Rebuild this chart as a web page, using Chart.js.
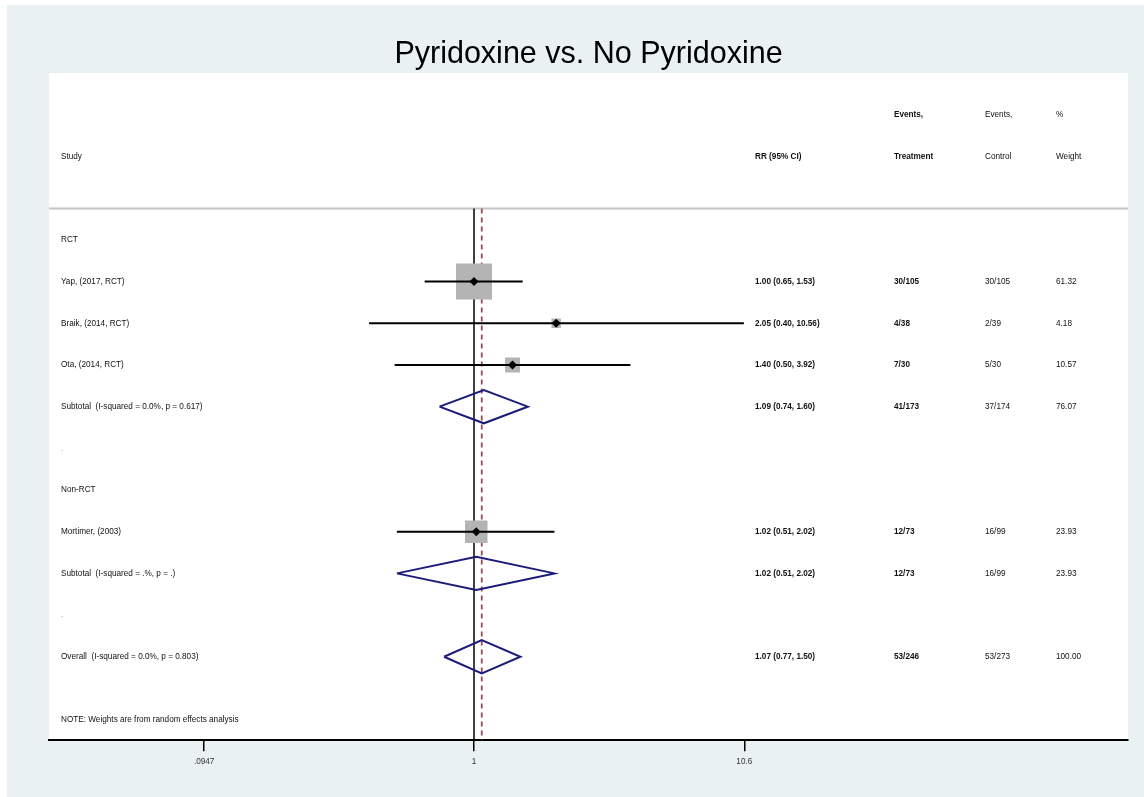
<!DOCTYPE html>
<html>
<head>
<meta charset="utf-8">
<title>Pyridoxine vs. No Pyridoxine</title>
<script src="https://cdn.jsdelivr.net/npm/chart.js@4.4.0/dist/chart.umd.min.js"></script>
<style>
  body { margin: 0; background: #fff; overflow: hidden; }
  canvas { display: block; }
</style>
</head>
<body>
<canvas id="grafica" width="1144" height="797"></canvas>
<script>
// rows, top to bottom
const studyLabels = [
  'RCT',
  'Yap, (2017, RCT)',
  'Braik, (2014, RCT)',
  'Ota, (2014, RCT)',
  'Subtotal  (I-squared = 0.0%, p = 0.617)',
  '.',
  'Non-RCT',
  'Mortimer, (2003)',
  'Subtotal  (I-squared = .%, p = .)',
  '.',
  'Overall  (I-squared = 0.0%, p = 0.803)'
];
const rowKind = ['group', 'study', 'study', 'study', 'pooled', 'blank', 'group', 'study', 'pooled', 'blank', 'pooled'];
const rr     = [null, 1.00, 2.05, 1.40, 1.09, null, null, 1.02, 1.02, null, 1.07];
const ciLow  = [null, 0.65, 0.40, 0.50, 0.74, null, null, 0.51, 0.51, null, 0.77];
const ciHigh = [null, 1.53, 10.56, 3.92, 1.60, null, null, 2.02, 2.02, null, 1.50];
const eventsTreatment = ['', '30/105', '4/38', '7/30', '41/173', '', '', '12/73', '12/73', '', '53/246'];
const eventsControl   = ['', '30/105', '2/39', '5/30', '37/174', '', '', '16/99', '16/99', '', '53/273'];
const weights = [null, 61.32, 4.18, 10.57, 76.07, null, null, 23.93, 23.93, null, 100.00];
const overallRR = 1.07;

const tickValues = [0.0947, 1, 10.6];
const tickLabels = ['.0947', '1', '10.6'];

// layout
const FONT = '"Liberation Sans", Arial, sans-serif';
const colX = { label: 61, rr: 755, treat: 894, ctrl: 985, weight: 1056 };
const separatorRow = -0.75;
const noteRow = 11.5;

const datasets = [];

// black diamonds on point estimates
const studyRows = [];
rowKind.forEach((k, i) => { if (k === 'study') studyRows.push(i); });

datasets.push({
  data: studyRows.map(i => ({ x: rr[i], y: i })),
  pointStyle: 'rectRot',
  pointRadius: 4.5,
  backgroundColor: '#000',
  borderWidth: 0,
  order: 0
});

// confidence intervals
studyRows.forEach(i => {
  datasets.push({
    data: [{ x: ciLow[i], y: i }, { x: ciHigh[i], y: i }],
    showLine: true,
    borderColor: '#000',
    borderWidth: 2,
    pointRadius: 0,
    order: 1
  });
});

// pooled diamonds
rowKind.forEach((k, i) => {
  if (k !== 'pooled') return;
  datasets.push({
    data: [
      { x: ciLow[i], y: i },
      { x: rr[i], y: i - 0.4 },
      { x: ciHigh[i], y: i },
      { x: rr[i], y: i + 0.4 },
      { x: ciLow[i], y: i }
    ],
    showLine: true,
    borderColor: '#1c1c7a',
    borderWidth: 2,
    pointRadius: 0,
    order: 1
  });
});

// weight boxes
datasets.push({
  data: studyRows.map(i => ({ x: rr[i], y: i })),
  pointStyle: 'rect',
  pointRadius: studyRows.map(i => 4.6 * Math.sqrt(weights[i]) / Math.SQRT2),
  backgroundColor: '#b4b4b4',
  borderWidth: 0,
  order: 2
});

// null line and overall line
datasets.push({
  data: [{ x: 1, y: separatorRow }, { x: 1, y: 12 }],
  showLine: true,
  borderColor: '#000',
  borderWidth: 1.5,
  pointRadius: 0,
  order: 3
});
datasets.push({
  data: [{ x: overallRR, y: separatorRow }, { x: overallRR, y: 12 }],
  showLine: true,
  borderColor: '#a84450',
  borderWidth: 1.8,
  borderDash: [5, 4],
  pointRadius: 0,
  order: 3
});

const backgroundPlugin = {
  id: 'fondo',
  beforeDraw(chart) {
    const ctx = chart.ctx;
    const a = chart.chartArea;
    ctx.save();
    ctx.fillStyle = '#fff';
    ctx.fillRect(0, 0, chart.width, chart.height);
    ctx.fillStyle = '#e9f1f3';
    ctx.fillRect(7, 5, chart.width - 7, chart.height - 5);
    ctx.fillStyle = '#fff';
    ctx.fillRect(a.left, a.top, a.right - a.left, a.bottom - a.top);
    ctx.restore();
  },
  beforeDatasetsDraw(chart) {
    const ctx = chart.ctx;
    const a = chart.chartArea;
    const y = chart.scales.y.getPixelForValue(separatorRow);
    ctx.save();
    ctx.strokeStyle = '#c4c4c4';
    ctx.lineWidth = 2;
    ctx.beginPath();
    ctx.moveTo(a.left, y);
    ctx.lineTo(a.right, y);
    ctx.stroke();
    ctx.restore();
  }
};

const textPlugin = {
  id: 'textos',
  afterDatasetsDraw(chart) {
    const ctx = chart.ctx;
    const ys = chart.scales.y;
    const normal = '8.2px ' + FONT;
    const bold = 'bold 8.2px ' + FONT;
    const put = (txt, x, row, font) => {
      ctx.font = font;
      ctx.fillText(txt, x, ys.getPixelForValue(row));
    };
    ctx.save();
    ctx.fillStyle = '#111';
    ctx.textAlign = 'left';
    ctx.textBaseline = 'middle';

    // header
    put('Events,', colX.treat, -3, bold);
    put('Events,', colX.ctrl, -3, normal);
    put('%', colX.weight, -3, normal);
    put('Study', colX.label, -2, normal);
    put('RR (95% CI)', colX.rr, -2, bold);
    put('Treatment', colX.treat, -2, bold);
    put('Control', colX.ctrl, -2, normal);
    put('Weight', colX.weight, -2, normal);

    studyLabels.forEach((lab, i) => {
      if (rowKind[i] === 'blank') {
        ctx.fillStyle = '#999';
        put(lab, colX.label, i, normal);
        ctx.fillStyle = '#111';
        return;
      }
      put(lab, colX.label, i, normal);
      if (rr[i] !== null) {
        const txt = rr[i].toFixed(2) + ' (' + ciLow[i].toFixed(2) + ', ' + ciHigh[i].toFixed(2) + ')';
        put(txt, colX.rr, i, bold);
        put(eventsTreatment[i], colX.treat, i, bold);
        put(eventsControl[i], colX.ctrl, i, normal);
        put(weights[i].toFixed(2), colX.weight, i, normal);
      }
    });

    put('NOTE: Weights are from random effects analysis', colX.label, noteRow, normal);
    ctx.restore();
  }
};

new Chart(document.querySelector('#grafica'), {
  type: 'scatter',
  data: { datasets: datasets },
  options: {
    responsive: false,
    animation: false,
    events: [],
    layout: { autoPadding: false, padding: { top: 0, left: 49, right: 16, bottom: 24 } },
    scales: {
      x: {
        type: 'logarithmic',
        min: 0.02443,
        max: 302.5,
        bounds: 'data',
        afterBuildTicks: (scale) => {
          scale.ticks = tickValues.map(v => ({ value: v }));
        },
        ticks: {
          autoSkip: false,
          maxRotation: 0,
          padding: 6,
          color: '#333',
          font: { family: FONT, size: 8.2 },
          callback: (value, index) => tickLabels[index]
        },
        grid: {
          display: true,
          drawOnChartArea: false,
          drawTicks: true,
          tickLength: 11,
          color: '#000',
          lineWidth: 1.5
        },
        border: { display: true, color: '#000', width: 2 }
      },
      y: {
        type: 'linear',
        min: -4,
        max: 12,
        reverse: true,
        display: false
      }
    },
    plugins: {
      legend: { display: false },
      tooltip: { enabled: false },
      title: {
        display: true,
        text: 'Pyridoxine vs. No Pyridoxine',
        color: '#000',
        font: { family: FONT, size: 30.5, weight: 'normal' },
        padding: { top: 36.5, bottom: 0 }
      }
    }
  },
  plugins: [backgroundPlugin, textPlugin]
});
</script>
</body>
</html>
